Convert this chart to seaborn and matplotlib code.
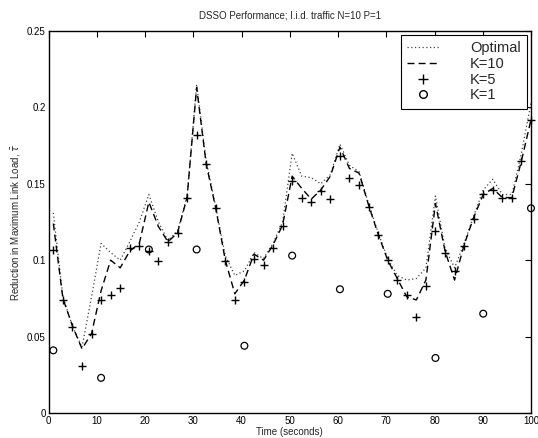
import numpy as np
import pandas as pd
import seaborn as sns
import matplotlib
matplotlib.use("Agg")
import matplotlib.pyplot as plt
from matplotlib.lines import Line2D

# ---- data ----
times = [1.00, 2.98, 4.96, 6.94, 8.92, 10.90, 12.88, 14.86, 16.84, 18.82,
         20.80, 22.78, 24.76, 26.74, 28.72, 30.70, 32.68, 34.66, 36.64, 38.62,
         40.60, 42.58, 44.56, 46.54, 48.52, 50.50, 52.48, 54.46, 56.44, 58.42,
         60.40, 62.38, 64.36, 66.34, 68.32, 70.30, 72.28, 74.26, 76.24, 78.22,
         80.20, 82.18, 84.16, 86.14, 88.12, 90.10, 92.08, 94.06, 96.04, 98.02,
         100.00]

optimal = [0.131, 0.076, 0.057, 0.043, 0.076, 0.111, 0.105, 0.100, 0.112, 0.125,
           0.143, 0.125, 0.113, 0.119, 0.142, 0.215, 0.165, 0.135, 0.103, 0.090,
           0.093, 0.105, 0.101, 0.111, 0.125, 0.170, 0.155, 0.154, 0.150, 0.156,
           0.176, 0.162, 0.158, 0.137, 0.118, 0.101, 0.090, 0.087, 0.088, 0.095,
           0.142, 0.108, 0.095, 0.111, 0.129, 0.146, 0.153, 0.143, 0.143, 0.170,
           0.203]

k10 = [0.124, 0.075, 0.057, 0.042, 0.052, 0.080, 0.100, 0.095, 0.106, 0.111,
       0.138, 0.122, 0.112, 0.118, 0.141, 0.213, 0.163, 0.134, 0.100, 0.078,
       0.087, 0.104, 0.100, 0.110, 0.123, 0.155, 0.147, 0.140, 0.146, 0.155,
       0.174, 0.160, 0.157, 0.136, 0.117, 0.100, 0.088, 0.076, 0.074, 0.087,
       0.137, 0.106, 0.087, 0.110, 0.128, 0.143, 0.147, 0.141, 0.141, 0.165,
       0.192]

k5 = [0.107, 0.074, 0.056, 0.031, 0.052, 0.074, 0.077, 0.082, 0.108, 0.1095,
      0.106, 0.0997, 0.112, 0.118, 0.141, 0.182, 0.163, 0.134, 0.0997, 0.074,
      0.086, 0.101, 0.097, 0.108, 0.1225, 0.152, 0.141, 0.138, 0.145, 0.140,
      0.168, 0.154, 0.149, 0.1345, 0.1165, 0.100, 0.087, 0.077, 0.063, 0.083,
      0.119, 0.1045, 0.093, 0.1095, 0.127, 0.143, 0.146, 0.141, 0.141, 0.165,
      0.192]

k1_times = [1.0, 10.9, 20.8, 30.7, 40.6, 50.5, 60.4, 70.3, 80.2, 90.1, 100.0]
k1 = [0.041, 0.023, 0.107, 0.107, 0.044, 0.103, 0.081, 0.078, 0.036, 0.065, 0.134]

title = "DSSO Performance; I.i.d. traffic N=10 P=1"
xlabel = "Time (seconds)"
ylabel = r"Reduction in Maximum Link Load, $\bar{\tau}$"
xticks = [0, 10, 20, 30, 40, 50, 60, 70, 80, 90, 100]
yticks = [0, 0.05, 0.1, 0.15, 0.2, 0.25]
yticklabels = ["0", "0.05", "0.1", "0.15", "0.2", "0.25"]
legend_labels = ["Optimal", "K=10", "K=5", "K=1"]

# ---- plotting ----
sns.set_theme(style="white")
plt.rcParams['font.family'] = ['Liberation Sans', 'DejaVu Sans']
plt.rcParams['mathtext.fontset'] = 'dejavusans'

df = pd.DataFrame({"t": times, "opt": optimal, "k10": k10, "k5": k5})
df1 = pd.DataFrame({"t": k1_times, "k1": k1})

fig = plt.figure(figsize=(5.38, 4.38), dpi=100)
ax = fig.add_axes([48.5 / 538, 1 - 413 / 438, (531 - 48.5) / 538, (413 - 31) / 438])

opt_style = dict(color="#444444", linestyle=(0, (1, 2)), linewidth=0.9)
k10_style = dict(color="black", linestyle=(0, (5, 3)), linewidth=1.0)

sns.lineplot(data=df, x="t", y="opt", ax=ax, label=legend_labels[0], **opt_style)
sns.lineplot(data=df, x="t", y="k10", ax=ax, label=legend_labels[1], **k10_style)
sns.scatterplot(data=df, x="t", y="k5", ax=ax, color="black", marker="+", s=34,
                linewidth=1.0, label=legend_labels[2], clip_on=False, zorder=3)
sns.scatterplot(data=df1, x="t", y="k1", ax=ax, facecolor="none", edgecolor="black",
                marker="o", s=24, linewidth=0.9, label=legend_labels[3],
                clip_on=False, zorder=3)

ax.set_xlim(0, 100)
ax.set_ylim(0, 0.25)
ax.set_xticks(xticks)
ax.set_xticklabels([str(v) for v in xticks])
ax.set_yticks(yticks)
ax.set_yticklabels(yticklabels)
ax.tick_params(direction="in", length=4, width=0.8, top=True, right=True,
               labelsize=7, colors="black", pad=2)
for sp in ax.spines.values():
    sp.set_color("black")
    sp.set_linewidth(1.0)

ax.set_title(title, fontsize=7, pad=9)
ax.set_xlabel(xlabel, fontsize=7, labelpad=1)
ax.set_ylabel(ylabel, fontsize=7, labelpad=3)

handles = [
    Line2D([], [], **opt_style),
    Line2D([], [], **k10_style),
    Line2D([], [], color="black", marker="+", linestyle="none", markersize=6.5,
           markeredgewidth=1.0),
    Line2D([], [], color="black", marker="o", markerfacecolor="none",
           linestyle="none", markersize=5.5),
]
leg = ax.legend(handles, legend_labels, loc="upper right",
                fontsize=10.5, frameon=True, fancybox=False, edgecolor="black",
                framealpha=1, handlelength=2.2, handletextpad=2.1,
                borderaxespad=0.25, labelspacing=0.12, borderpad=0.45)
leg.get_frame().set_linewidth(0.8)

fig.savefig("out.png", dpi=100)
